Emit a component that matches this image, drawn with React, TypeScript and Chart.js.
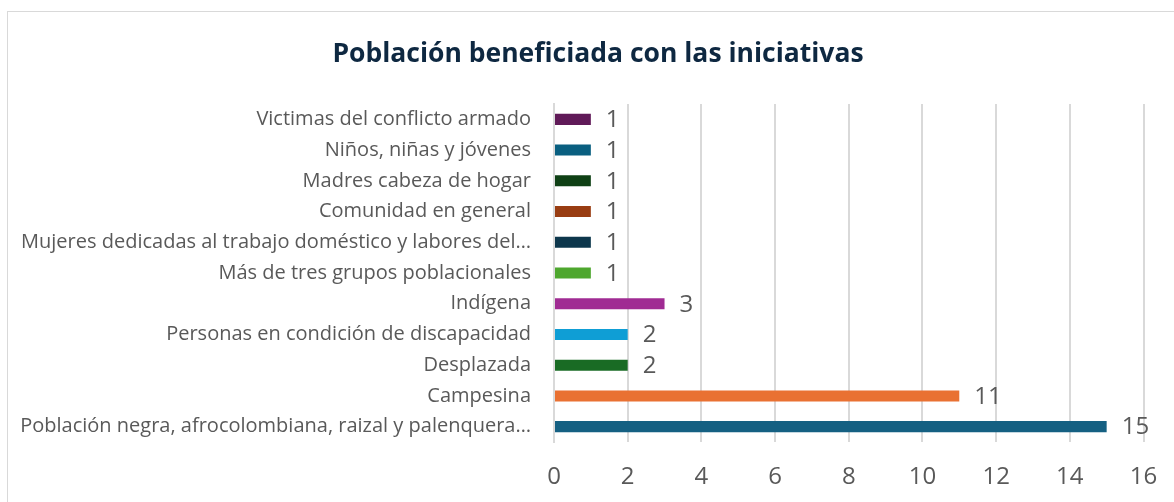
import React, { useEffect, useRef } from "react";
import { Chart, registerables } from "chart.js";

Chart.register(...registerables);

const categories: string[] = [
  "Victimas del conflicto armado",
  "Niños, niñas y jóvenes",
  "Madres cabeza de hogar",
  "Comunidad en general",
  "Mujeres dedicadas al trabajo doméstico y labores del…",
  "Más de tres grupos poblacionales",
  "Indígena",
  "Personas en condición de discapacidad",
  "Desplazada",
  "Campesina",
  "Población negra, afrocolombiana, raizal y palenquera…",
];

const values: number[] = [1, 1, 1, 1, 1, 1, 3, 2, 2, 11, 15];

const barColors: string[] = [
  "#601A58",
  "#095F80",
  "#0F4015",
  "#993D12",
  "#0D374C",
  "#4EA72E",
  "#A02B93",
  "#0F9ED5",
  "#196B24",
  "#E97132",
  "#156082",
];

const xTicks = { min: 0, max: 16, step: 2 };

const titleText = "Población beneficiada con las iniciativas";

const FONT = "'Open Sans', 'Noto Sans', sans-serif";

const dataLabelPlugin = {
  id: "dataLabels",
  afterDatasetsDraw(chart: any) {
    const ctx = chart.ctx;
    const meta = chart.getDatasetMeta(0);
    ctx.save();
    ctx.font = `24px ${FONT}`;
    ctx.fillStyle = "#595959";
    ctx.textAlign = "left";
    ctx.textBaseline = "middle";
    meta.data.forEach((bar: any, i: number) => {
      ctx.fillText(String(values[i]), bar.x + 15, bar.y + 1);
    });
    ctx.restore();
  },
};

const titlePlugin = {
  id: "fixedTitle",
  afterDraw(chart: any) {
    const ctx = chart.ctx;
    ctx.save();
    ctx.font = `bold 26.5px ${FONT}`;
    ctx.fillStyle = "#0E2841";
    ctx.textAlign = "center";
    ctx.textBaseline = "middle";
    ctx.fillText(titleText, 590, 42);
    ctx.restore();
  },
};

export default function App() {
  const canvasRef = useRef<HTMLCanvasElement | null>(null);

  useEffect(() => {
    document.body.style.margin = "0";
    document.body.style.overflow = "hidden";
    const canvas = canvasRef.current;
    if (!canvas) return;
    const chart = new Chart(canvas, {
      type: "bar",
      data: {
        labels: categories,
        datasets: [
          {
            data: values,
            backgroundColor: barColors,
            borderWidth: 0,
            categoryPercentage: 0.4,
            barPercentage: 0.9,
          },
        ],
      },
      options: {
        indexAxis: "y",
        responsive: false,
        animation: false,
        maintainAspectRatio: false,
        layout: { padding: { left: 0, right: 30.5, top: 92, bottom: 0 } },
        plugins: {
          legend: { display: false },
          tooltip: { enabled: false },
          title: { display: false },
        },
        scales: {
          x: {
            type: "linear",
            min: xTicks.min,
            max: xTicks.max,
            ticks: {
              stepSize: xTicks.step,
              color: "#595959",
              font: { family: FONT, size: 24 },
              padding: 21,
            },
            grid: {
              color: "#D9D9D9",
              lineWidth: 2,
              drawTicks: false,
            },
            border: { display: false },
            afterFit: (scale: any) => {
              scale.height = 60;
              scale.paddingLeft = 0;
              scale.paddingRight = 0;
            },
          },
          y: {
            type: "category",
            ticks: {
              color: "#595959",
              font: { family: FONT, size: 20 },
              padding: 23,
              autoSkip: false,
            },
            grid: { display: false, drawTicks: false },
            border: { display: true, color: "#D9D9D9", width: 2 },
            afterFit: (scale: any) => {
              scale.width = 546;
              scale.paddingTop = 0;
              scale.paddingBottom = 0;
            },
          },
        },
      },
      plugins: [dataLabelPlugin, titlePlugin],
    });
    return () => chart.destroy();
  }, []);

  return (
    <div
      style={{
        position: "absolute",
        left: 7,
        top: 11,
        width: 1200,
        height: 520,
        border: "1px solid #D9D9D9",
        background: "#fff",
      }}
    >
      <canvas
        ref={canvasRef}
        width={1166}
        height={490}
        style={{ position: "absolute", left: 0, top: 0, width: 1166, height: 490 }}
      />
    </div>
  );
}
